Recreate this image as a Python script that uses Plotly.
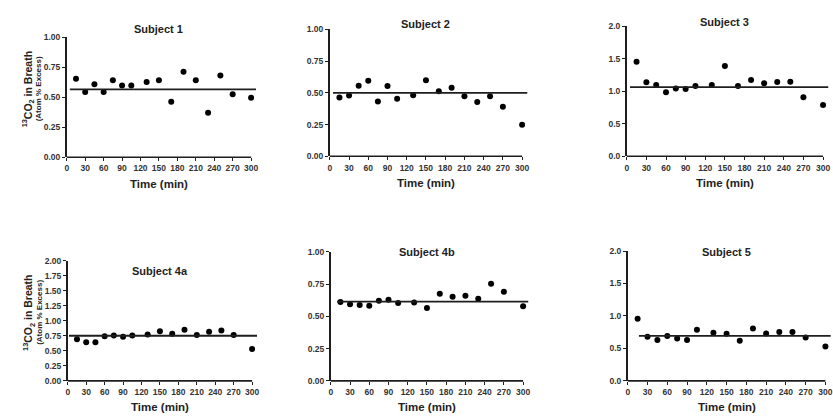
import plotly.graph_objects as go

# ---------------- data ----------------
times = [15, 30, 45, 60, 75, 90, 105, 130, 150, 170, 190, 210, 230, 250, 270, 300]
x_tick_vals = [0, 30, 60, 90, 120, 150, 180, 210, 240, 270, 300]

subject_1 = [0.655, 0.543, 0.609, 0.543, 0.641, 0.598, 0.598, 0.628, 0.641, 0.462, 0.712, 0.641, 0.370, 0.682, 0.524, 0.495]
subject_2 = [0.464, 0.479, 0.556, 0.595, 0.431, 0.554, 0.454, 0.482, 0.600, 0.513, 0.541, 0.474, 0.428, 0.474, 0.390, 0.249]
subject_3 = [1.455, 1.140, 1.100, 0.985, 1.045, 1.035, 1.085, 1.100, 1.390, 1.085, 1.175, 1.125, 1.145, 1.150, 0.910, 0.790]
subject_4a = [0.692, 0.643, 0.643, 0.741, 0.757, 0.735, 0.757, 0.773, 0.827, 0.784, 0.849, 0.762, 0.816, 0.838, 0.762, 0.530]
subject_4b = [0.612, 0.594, 0.589, 0.582, 0.622, 0.630, 0.605, 0.607, 0.566, 0.676, 0.653, 0.661, 0.638, 0.753, 0.691, 0.579]
subject_5 = [0.957, 0.678, 0.628, 0.689, 0.653, 0.628, 0.785, 0.739, 0.724, 0.618, 0.805, 0.729, 0.754, 0.754, 0.668, 0.527]

titles = ["Subject 1", "Subject 2", "Subject 3", "Subject 4a", "Subject 4b", "Subject 5"]
series = [subject_1, subject_2, subject_3, subject_4a, subject_4b, subject_5]
mean_values = [0.565, 0.500, 1.065, 0.751, 0.615, 0.694]
mean_x_start = [5, 5, 5, 2, 10, 17]
mean_x_end = 308
y_max = [1.0, 1.0, 2.0, 2.0, 1.0, 2.0]
y_step = [0.25, 0.25, 0.5, 0.25, 0.25, 0.5]
y_format = [".2f", ".2f", ".1f", ".2f", ".2f", ".1f"]

x_title = "Time (min)"
y_title_1 = "<sup>13</sup>CO<sub>2</sub> in Breath"
y_title_2 = "(Atom % Excess)"

# ---------------- layout geometry (pixels) ----------------
W, H = 833, 420
X_MAX = 310
# (x at 0, x at 300, y top, y bottom)
boxes = [
    (65, 250, 33, 156),
    (329, 522, 25, 155),
    (627, 824, 22, 155),
    (66, 251, 262, 385),
    (330, 523, 253, 385),
    (628, 827, 252, 385),
]
title_y = [25, 19, 17, 272, 253, 253]
xtitle_y = [183, 182, 182, 412, 412, 412]

INK = "#1e1e1e"
FONT = "Liberation Sans, Arial, sans-serif"

fig = go.Figure()
annotations = []
shapes = []

for i in range(6):
    n = "" if i == 0 else str(i + 1)
    xa, ya = "x" + n, "y" + n
    x0, x300, yt, yb = boxes[i]
    xr = x0 + (x300 - x0) * X_MAX / 300.0
    dom_x = [x0 / W, min(xr / W, 1.0)]
    dom_y = [1 - yb / H, 1 - yt / H]

    fig.add_trace(go.Scatter(
        x=times, y=series[i], mode="markers", xaxis=xa, yaxis=ya,
        marker=dict(color="black", size=6), cliponaxis=False, showlegend=False,
    ))
    fig.add_trace(go.Scatter(
        x=[mean_x_start[i], mean_x_end], y=[mean_values[i], mean_values[i]],
        mode="lines", xaxis=xa, yaxis=ya,
        line=dict(color=INK, width=1.8), cliponaxis=False, showlegend=False,
    ))

    fig.layout["xaxis" + n] = dict(
        domain=dom_x, range=[0, X_MAX], anchor=ya,
        tickvals=x_tick_vals, ticks="outside", ticklen=3, tickwidth=1.3, tickcolor=INK,
        showline=False, showgrid=False, zeroline=False,
        tickfont=dict(family=FONT, size=8.5, color="#333", weight="bold"),
    )
    fig.layout["yaxis" + n] = dict(
        domain=dom_y, range=[0, y_max[i]], anchor=xa,
        tick0=0, dtick=y_step[i], tickformat=y_format[i],
        ticks="outside", ticklen=3, tickwidth=1.3, tickcolor=INK,
        showline=True, linewidth=1.6, linecolor=INK,
        showgrid=False, zeroline=False,
        tickfont=dict(family=FONT, size=8.5, color="#333", weight="bold"),
    )
    # x axis line spanning 0..300 only
    shapes.append(dict(type="line", xref=xa, yref=ya + " domain",
                       x0=0, x1=300, y0=0, y1=0,
                       line=dict(color=INK, width=1.6)))

    cx = (x0 + x300) / 2.0
    annotations.append(dict(text=titles[i], xref="paper", yref="paper",
                            x=cx / W, y=1 - title_y[i] / H,
                            xanchor="center", yanchor="middle", showarrow=False,
                            font=dict(family=FONT, size=11, color="#222", weight="bold")))
    annotations.append(dict(text=x_title, xref="paper", yref="paper",
                            x=cx / W, y=1 - xtitle_y[i] / H,
                            xanchor="center", yanchor="middle", showarrow=False,
                            font=dict(family=FONT, size=11.5, color="#222", weight="bold")))

# y-axis titles (left column only)
for yc in (86, 315):
    annotations.append(dict(text=y_title_1, xref="paper", yref="paper",
                            x=26.5 / W, y=1 - yc / H, textangle=-90,
                            xanchor="center", yanchor="middle", showarrow=False,
                            font=dict(family=FONT, size=10.5, color="#222", weight="bold")))
    annotations.append(dict(text=y_title_2, xref="paper", yref="paper",
                            x=37.5 / W, y=1 - yc / H, textangle=-90,
                            xanchor="center", yanchor="middle", showarrow=False,
                            font=dict(family=FONT, size=8, color="#222", weight="bold")))

fig.update_layout(
    width=W, height=H,
    margin=dict(l=0, r=0, t=0, b=0),
    paper_bgcolor="white", plot_bgcolor="white",
    showlegend=False,
    annotations=annotations,
    shapes=shapes,
)

fig.write_html("out.html",
               config={"displayModeBar": False},
               post_script="document.body.style.margin='0';document.body.style.overflow='hidden';")
